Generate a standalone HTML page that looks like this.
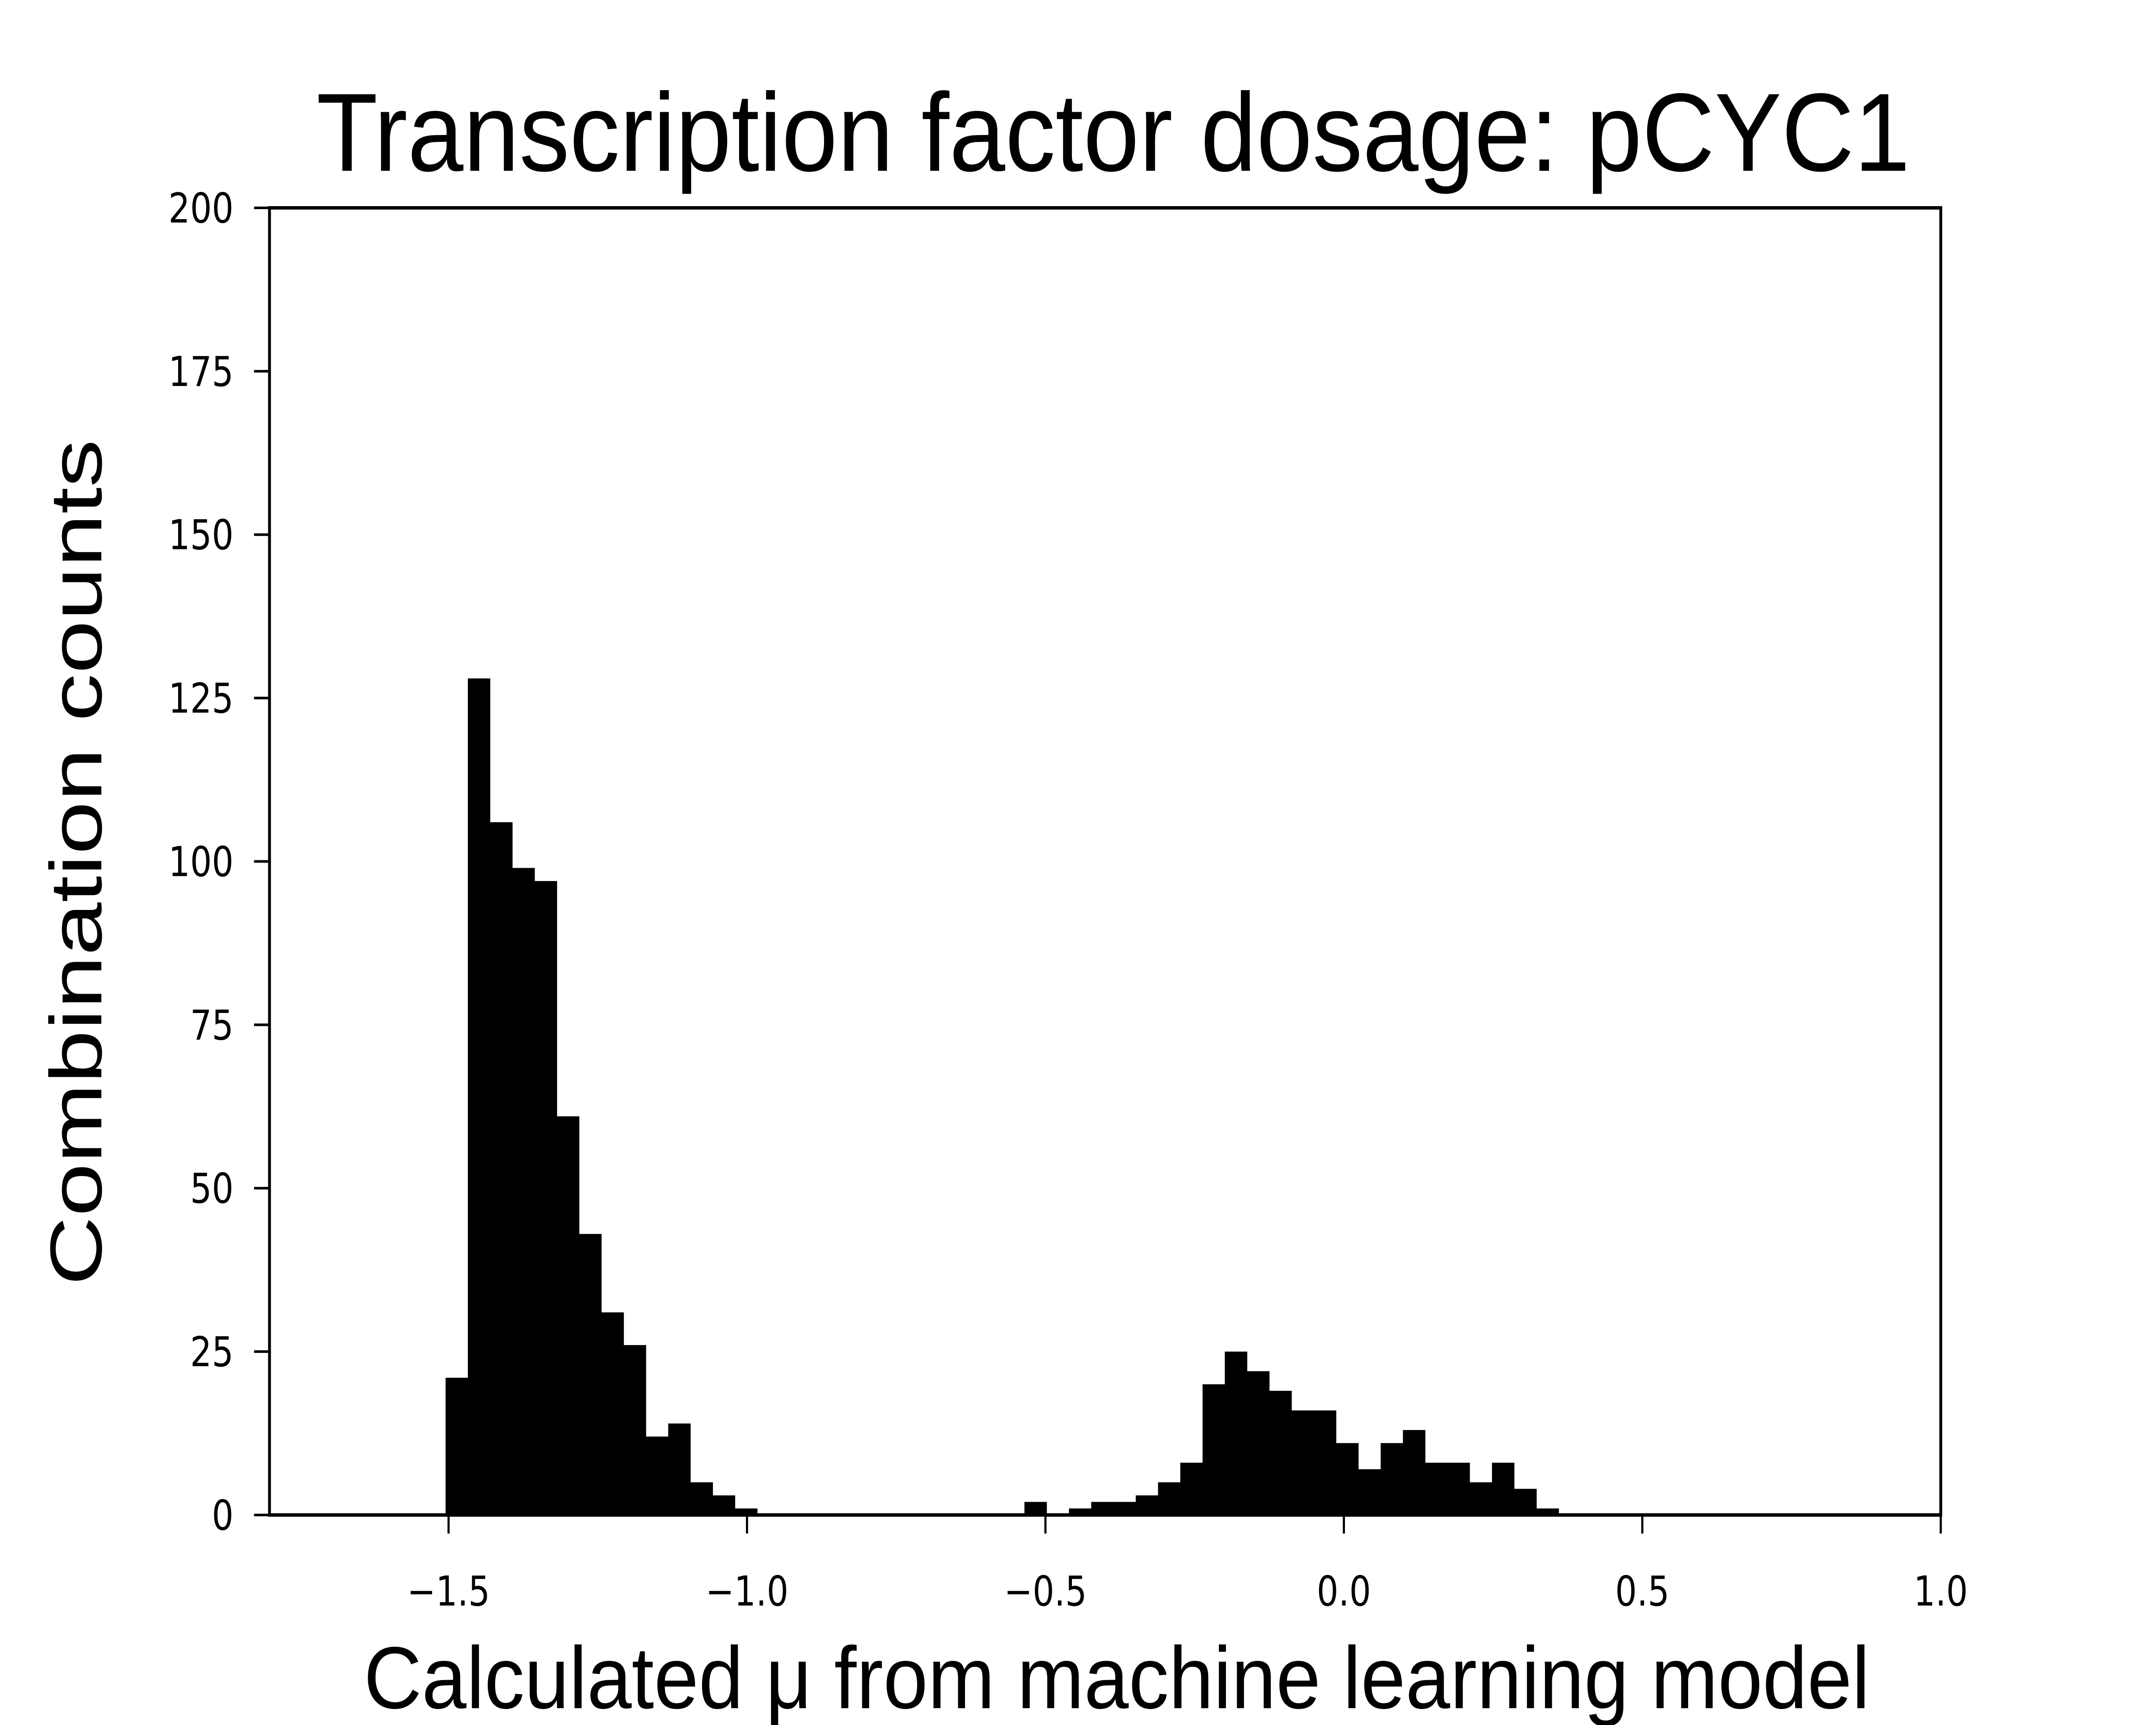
<!DOCTYPE html>
<html><head><meta charset="utf-8"><style>html,body{margin:0;padding:0;background:#fff;width:100%;height:100%;overflow:hidden}svg{display:block;width:100vw;height:100vh}</style></head>
<body>
<svg id="chart" viewBox="0 0 6000 4000" preserveAspectRatio="none" xmlns="http://www.w3.org/2000/svg">
<rect width="6000" height="4000" fill="#fff"/>
<text x="3098" y="396" font-family="Liberation Sans, Arial, sans-serif" font-size="258" text-anchor="middle" textLength="4435" lengthAdjust="spacingAndGlyphs">Transcription factor dosage: pCYC1</text>
<text x="3108" y="3961" font-family="Liberation Sans, Arial, sans-serif" font-size="204" text-anchor="middle" textLength="4191" lengthAdjust="spacingAndGlyphs">Calculated μ from machine learning model</text>
<text transform="translate(282,2000) rotate(-90)" x="0" y="0" font-family="Liberation Sans, Arial, sans-serif" font-size="204" text-anchor="middle" textLength="1962" lengthAdjust="spacingAndGlyphs">Combination counts</text>
<g id="bars"></g>
<g id="ticks"></g>
<rect x="750" y="482" width="4651" height="3031" fill="none" stroke="#000" stroke-width="8"/>
</svg>
<script>
const binStart = -1.505;
const binWidth = 0.0373;
const counts = [21,128,106,99,97,61,43,31,26,12,14,5,3,1,0,0,0,0,0,0,0,0,0,0,0,0,2,0,1,2,2,3,5,8,20,25,22,19,16,16,11,7,11,13,8,8,5,8,4,1];
const xTicks = [-1.5,-1.0,-0.5,0.0,0.5,1.0];
const xTickLabels = ["\u22121.5","\u22121.0","\u22120.5","0.0","0.5","1.0"];
const yTicks = [0,25,50,75,100,125,150,175,200];
const yTickLabels = ["0","25","50","75","100","125","150","175","200"];

const L=750,R=5401,T=482,B=3513, XMIN=-1.8, XMAX=1.0, YMIN=0, YMAX=200;
const NS="http://www.w3.org/2000/svg";
function sx(v){return L+(v-XMIN)/(XMAX-XMIN)*(R-L);}
function sy(v){return B-(v-YMIN)/(YMAX-YMIN)*(B-T);}
const bars=document.getElementById('bars');
counts.forEach((c,i)=>{
  if(c<=0) return;
  const x0=sx(binStart+i*binWidth), x1=sx(binStart+(i+1)*binWidth);
  const r=document.createElementNS(NS,'rect');
  
  
  r.setAttribute('x',x0); r.setAttribute('width',x1-x0+0.5);
  r.setAttribute('y',sy(c)); r.setAttribute('height',B-sy(c));
  r.setAttribute('fill','#000');
  bars.appendChild(r);
});
const tk=document.getElementById('ticks');
xTicks.forEach((v,i)=>{
  const x=sx(v);
  const l=document.createElementNS(NS,'line');
  
  
  l.setAttribute('x1',x);l.setAttribute('x2',x);l.setAttribute('y1',B);l.setAttribute('y2',B+43);
  l.setAttribute('stroke','#000');l.setAttribute('stroke-width','6');
  tk.appendChild(l);
  const t=document.createElementNS(NS,'text');
  
  
  t.setAttribute('x',x);t.setAttribute('y',3723);
  t.setAttribute('text-anchor','middle');
  t.setAttribute('font-family','DejaVu Sans, sans-serif');t.setAttribute('font-size','95');
  t.textContent=xTickLabels[i];
  tk.appendChild(t);
});
yTicks.forEach((v,i)=>{
  const y=sy(v);
  const l=document.createElementNS(NS,'line');
  
  
  l.setAttribute('x1',L-43);l.setAttribute('x2',L);l.setAttribute('y1',y);l.setAttribute('y2',y);
  l.setAttribute('stroke','#000');l.setAttribute('stroke-width','6');
  tk.appendChild(l);
  const t=document.createElementNS(NS,'text');
  
  
  t.setAttribute('x',650);t.setAttribute('y',y+34);
  t.setAttribute('text-anchor','end');
  t.setAttribute('font-family','DejaVu Sans, sans-serif');t.setAttribute('font-size','95');
  t.textContent=yTickLabels[i];
  tk.appendChild(t);
});
</script>
</body></html>
